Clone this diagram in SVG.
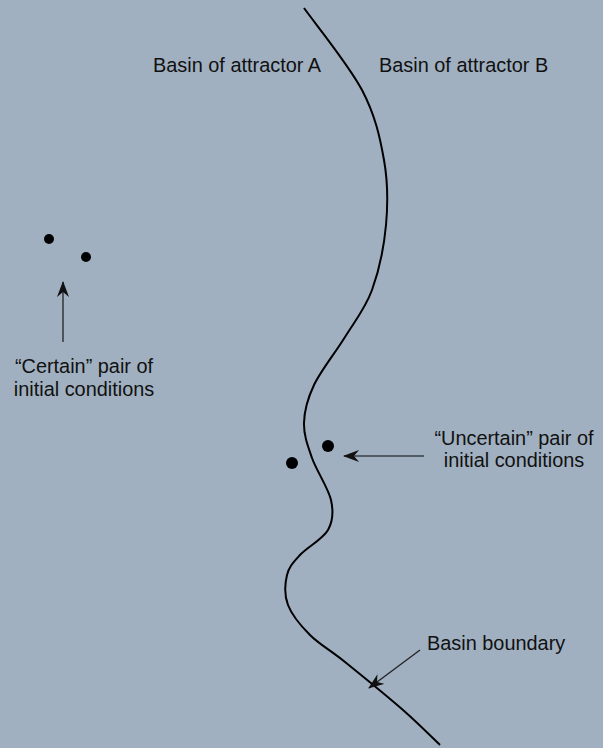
<svg xmlns="http://www.w3.org/2000/svg" width="603" height="748" viewBox="0 0 603 748">
<style>
.lbl{font-family:"Liberation Sans",Arial,sans-serif;font-size:19.9px;fill:#111}
.dot{fill:#000}
.arr{stroke:#222;stroke-width:1.3;fill:none;marker-end:url(#ah)}
.boundary{stroke:#000;stroke-width:2;fill:none}
</style>
<defs>
<marker id="ah" markerUnits="userSpaceOnUse" markerWidth="16" markerHeight="12" viewBox="0 0 16 12" refX="15" refY="6" orient="auto">
<path d="M0,0 L16,6 L0,12 L5,6 z" fill="#111"/>
</marker>
</defs>
<rect x="0" y="0" width="603" height="748" fill="#a0b0c0"/>
<g id="boundary">
<path class="boundary" d="M304,8 C313.7,21.7 348.7,64.7 362,90 C375.3,115.3 380,137.5 384,160 C388,182.5 388,203.3 386,225 C384,246.7 378.8,271.3 372,290 C365.2,308.7 354.7,321.2 345,337 C335.3,352.8 320.8,370.7 314,385 C307.2,399.3 304.3,410.8 304,423 C303.7,435.2 307.5,445.2 312,458 C316.5,470.8 328.3,488 331,500 C333.7,512 333.2,520.8 328,530 C322.8,539.2 306.8,547.5 300,555 C293.2,562.5 289,566.7 287,575 C285,583.3 284.2,595 288,605 C291.8,615 300.5,625.5 310,635 C319.5,644.5 329.5,649.5 345,662 C360.5,674.5 387.2,696.2 403,710 C418.8,723.8 433.8,739.2 440,745"/>
</g>
<g id="labelA"><text class="lbl" x="153" y="72">Basin of attractor A</text></g>
<g id="labelB"><text class="lbl" x="379" y="72">Basin of attractor B</text></g>
<g id="certain-pair">
<circle class="dot" cx="49" cy="239" r="5"/>
<circle class="dot" cx="86" cy="257" r="5"/>
</g>
<g id="certain-label">
<text class="lbl" x="84" y="373" text-anchor="middle">“Certain” pair of</text>
<text class="lbl" x="84" y="396" text-anchor="middle">initial conditions</text>
</g>
<g id="uncertain-pair">
<circle class="dot" cx="328" cy="446" r="6"/>
<circle class="dot" cx="292" cy="463" r="6"/>
</g>
<g id="uncertain-label">
<text class="lbl" x="514" y="445" text-anchor="middle">“Uncertain” pair of</text>
<text class="lbl" x="514" y="467" text-anchor="middle">initial conditions</text>
</g>
<g id="boundary-label"><text class="lbl" x="427" y="650">Basin boundary</text></g>
<g id="connectors">
<line class="arr" x1="63" y1="342" x2="63" y2="282"/>
<line class="arr" x1="424" y1="456" x2="344" y2="456" style="stroke:#3a3f47"/>
<line class="arr" x1="420" y1="650" x2="369" y2="688"/>
</g>
</svg>
